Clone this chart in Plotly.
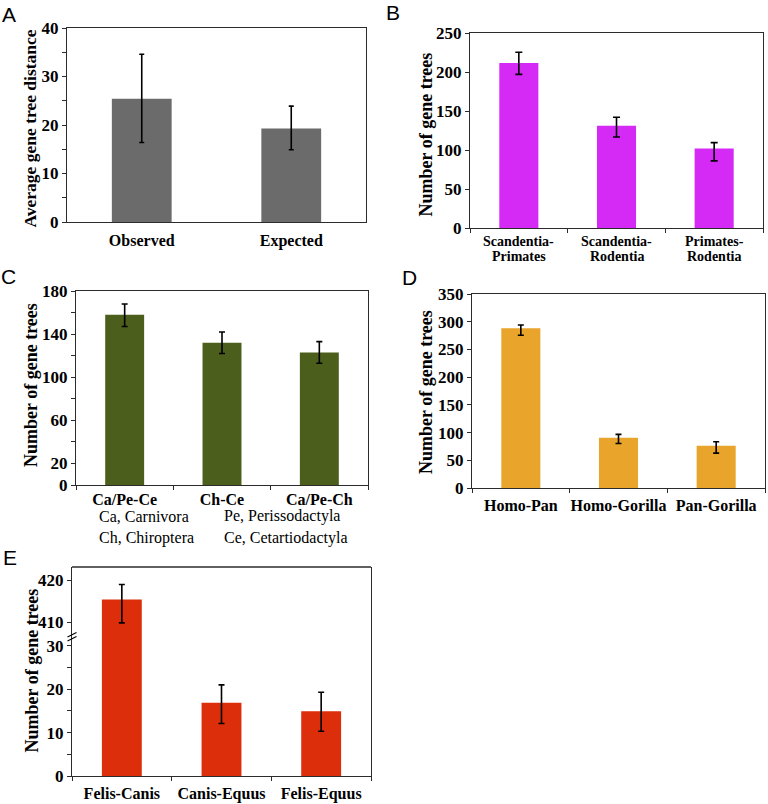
import plotly.graph_objects as go

W, H = 768, 804

# ---------------- data ----------------
a_cats = ["Observed", "Expected"]
a_vals = [25.4, 19.3]
a_hi = [34.6, 23.9]
a_lo = [16.4, 14.9]

b_cats = ["Scandentia-Primates", "Scandentia-Rodentia", "Primates-Rodentia"]
b_line1 = ["Scandentia-", "Scandentia-", "Primates-"]
b_line2 = ["Primates", "Rodentia", "Rodentia"]
b_vals = [211.5, 131.0, 102.0]
b_hi = [225.3, 141.9, 109.4]
b_lo = [197.0, 116.7, 86.0]

c_cats = ["Ca/Pe-Ce", "Ch-Ce", "Ca/Pe-Ch"]
c_vals = [158.0, 132.0, 123.0]
c_hi = [168.0, 142.0, 133.0]
c_lo = [147.0, 122.0, 113.0]
c_key_left = ["Ca, Carnivora", "Ch, Chiroptera"]
c_key_right = ["Pe, Perissodactyla", "Ce, Cetartiodactyla"]

d_cats = ["Homo-Pan", "Homo-Gorilla", "Pan-Gorilla"]
d_vals = [288.0, 90.6, 76.2]
d_hi = [294.0, 96.7, 83.4]
d_lo = [275.6, 80.4, 63.0]

e_cats = ["Felis-Canis", "Canis-Equus", "Felis-Equus"]
e_vals = [415.4, 16.9, 14.9]
e_hi = [419.0, 21.0, 19.3]
e_lo = [409.8, 12.1, 10.3]

# ---------------- helpers ----------------
def px(x):
    return x / W

def py(y):
    return 1 - y / H

SERIF = "Liberation Serif"
SANS = "Liberation Sans"
LINE = "#2b2b2b"

def err(vals, hi, lo, width=3):
    return dict(type="data", symmetric=False,
                array=[h - v for h, v in zip(hi, vals)],
                arrayminus=[v - l for v, l in zip(vals, lo)],
                color="black", thickness=1.6, width=width)

def bar(cats, vals, hi, lo, color, xa, ya, width=3):
    return go.Bar(x=cats, y=vals, marker=dict(color=color, line=dict(width=0)),
                  width=0.4, error_y=err(vals, hi, lo, width), xaxis=xa, yaxis=ya,
                  showlegend=False, hoverinfo="x+y")

fig = go.Figure()
fig.add_trace(bar(a_cats, a_vals, a_hi, a_lo, "#6b6b6b", "x", "y", 2.5))
fig.add_trace(bar(b_cats, b_vals, b_hi, b_lo, "#d52af5", "x2", "y2", 3.5))
fig.add_trace(bar(c_cats, c_vals, c_hi, c_lo, "#4b5e1b", "x3", "y3", 3))
fig.add_trace(bar(d_cats, d_vals, d_hi, d_lo, "#e8a42b", "x4", "y4", 3))
fig.add_trace(bar(e_cats, e_vals, e_hi, e_lo, "#dc2e0b", "x5", "y5", 3))
fig.add_trace(bar(e_cats, e_vals, e_hi, e_lo, "#dc2e0b", "x5", "y6", 3))

xtickf = dict(family=SERIF, size=16, color="black", weight="bold")
ytickf = dict(family=SERIF, size=17, color="black", weight="bold")

def xax(dom, anchor, ticks="outside", mirror=True, showlabels=True, standoff=0):
    return dict(domain=[px(dom[0]), px(dom[1])], anchor=anchor, type="category",
                range=[-0.5, 2.5], showline=True, linecolor=LINE, linewidth=1.3,
                mirror=mirror, ticks=ticks, ticklen=4, tickcolor=LINE,
                tickson="boundaries", showgrid=False, zeroline=False,
                tickangle=0, automargin=False, ticklabelstandoff=standoff,
                tickfont=xtickf, showticklabels=showlabels, fixedrange=True)

def yax(dom, anchor, rng, tickvals, minor=None, mirror=True):
    d = dict(domain=[py(dom[1]), py(dom[0])], anchor=anchor, range=rng,
             tickmode="array", tickvals=tickvals, showline=True, linecolor=LINE,
             linewidth=1.3, mirror=mirror, ticks="outside", ticklen=4,
             tickcolor=LINE, showgrid=False, zeroline=False, tickfont=ytickf,
             automargin=False, fixedrange=True)
    if minor:
        d["minor"] = dict(tickmode="array", tickvals=minor, ticks="outside",
                          ticklen=4, tickcolor=LINE, showgrid=False)
    return d

layout = dict(
    template="none",
    width=W, height=H, autosize=False,
    margin=dict(l=0, r=0, t=0, b=0, pad=0),
    paper_bgcolor="white", plot_bgcolor="white",
    bargap=0.6,
)

xa = xax((67, 366), "y", ticks="", standoff=4)
xa["range"] = [-0.5, 1.5]
layout["xaxis"] = xa
layout["yaxis"] = yax((28, 222), "x", [0, 40], [0, 10, 20, 30, 40], [5, 15, 25, 35])

layout["xaxis2"] = xax((470, 763), "y2", showlabels=False)
layout["yaxis2"] = yax((33, 228), "x2", [0, 250], [0, 50, 100, 150, 200, 250])

layout["xaxis3"] = xax((76, 368), "y3")
layout["yaxis3"] = yax((291, 485), "x3", [0, 180], [0, 20, 60, 100, 140, 180],
                       [40, 80, 120, 160])

layout["xaxis4"] = xax((472, 765), "y4", standoff=3)
layout["yaxis4"] = yax((294, 488), "x4", [0, 350], [0, 50, 100, 150, 200, 250, 300, 350])

layout["xaxis5"] = xax((72, 371), "y5", mirror=False, standoff=3)
layout["yaxis5"] = yax((635, 776), "x5", [0, 32.5], [0, 10, 20, 30], [5, 15, 25])
layout["yaxis6"] = yax((567, 635), "x5", [406.9, 423.2], [410, 420])

fig.update_layout(**layout)

ann = []
# panel letters
for letter, (cx, cy) in zip("ABCDE", [(8.5, 14.5), (393, 12.5), (8.5, 276.5),
                                       (409, 277), (9.5, 557)]):
    ann.append(dict(text=letter, x=px(cx), y=py(cy), xref="paper", yref="paper",
                    xanchor="center", yanchor="middle", showarrow=False,
                    font=dict(family=SANS, size=21, color="black")))

# y axis titles
titles = [("Average gene tree distance", 29.5, 129, 17.5),
          ("Number of gene trees", 425.5, 135, 18),
          ("Number of gene trees", 31, 385, 18),
          ("Number of gene trees", 425.5, 392.5, 18),
          ("Number of gene trees", 31, 670.5, 18)]
for t, cx, cy, fs in titles:
    ann.append(dict(text=t, x=px(cx), y=py(cy), xref="paper", yref="paper",
                    xanchor="center", yanchor="middle", textangle=-90,
                    showarrow=False,
                    font=dict(family=SERIF, size=fs, color="black", weight="bold")))

# B two-line category labels
for cat, l1, l2 in zip(b_cats, b_line1, b_line2):
    for txt, cy in ((l1, 241), (l2, 256.5)):
        ann.append(dict(text=txt, x=cat, y=py(cy), xref="x2", yref="paper",
                        xanchor="center", yanchor="middle", showarrow=False,
                        font=dict(family=SERIF, size=14, color="black", weight="bold")))

# C key
for txt, cy in zip(c_key_left, (516, 537.5)):
    ann.append(dict(text=txt, x=px(97), y=py(cy), xref="paper", yref="paper",
                    xanchor="left", yanchor="middle", showarrow=False,
                    font=dict(family=SERIF, size=16, color="black")))
for txt, cy in zip(c_key_right, (516, 537.5)):
    ann.append(dict(text=txt, x=px(222), y=py(cy), xref="paper", yref="paper",
                    xanchor="left", yanchor="middle", showarrow=False,
                    font=dict(family=SERIF, size=16, color="black")))

shapes = []
# E top border
shapes.append(dict(type="line", xref="paper", yref="paper", x0=px(72), x1=px(371),
                   y0=py(567), y1=py(567), line=dict(color=LINE, width=1.3)))
# E axis break marks
for dy in (0, 4):
    shapes.append(dict(type="line", xref="paper", yref="paper",
                       x0=px(67.5), x1=px(76.5), y0=py(637 + dy), y1=py(632.5 + dy),
                       line=dict(color="black", width=1.2)))

fig.update_layout(annotations=ann, shapes=shapes)

fig.write_html("out.html", config={"displayModeBar": False},
               post_script="document.body.style.margin='0';document.body.style.padding='0';")
